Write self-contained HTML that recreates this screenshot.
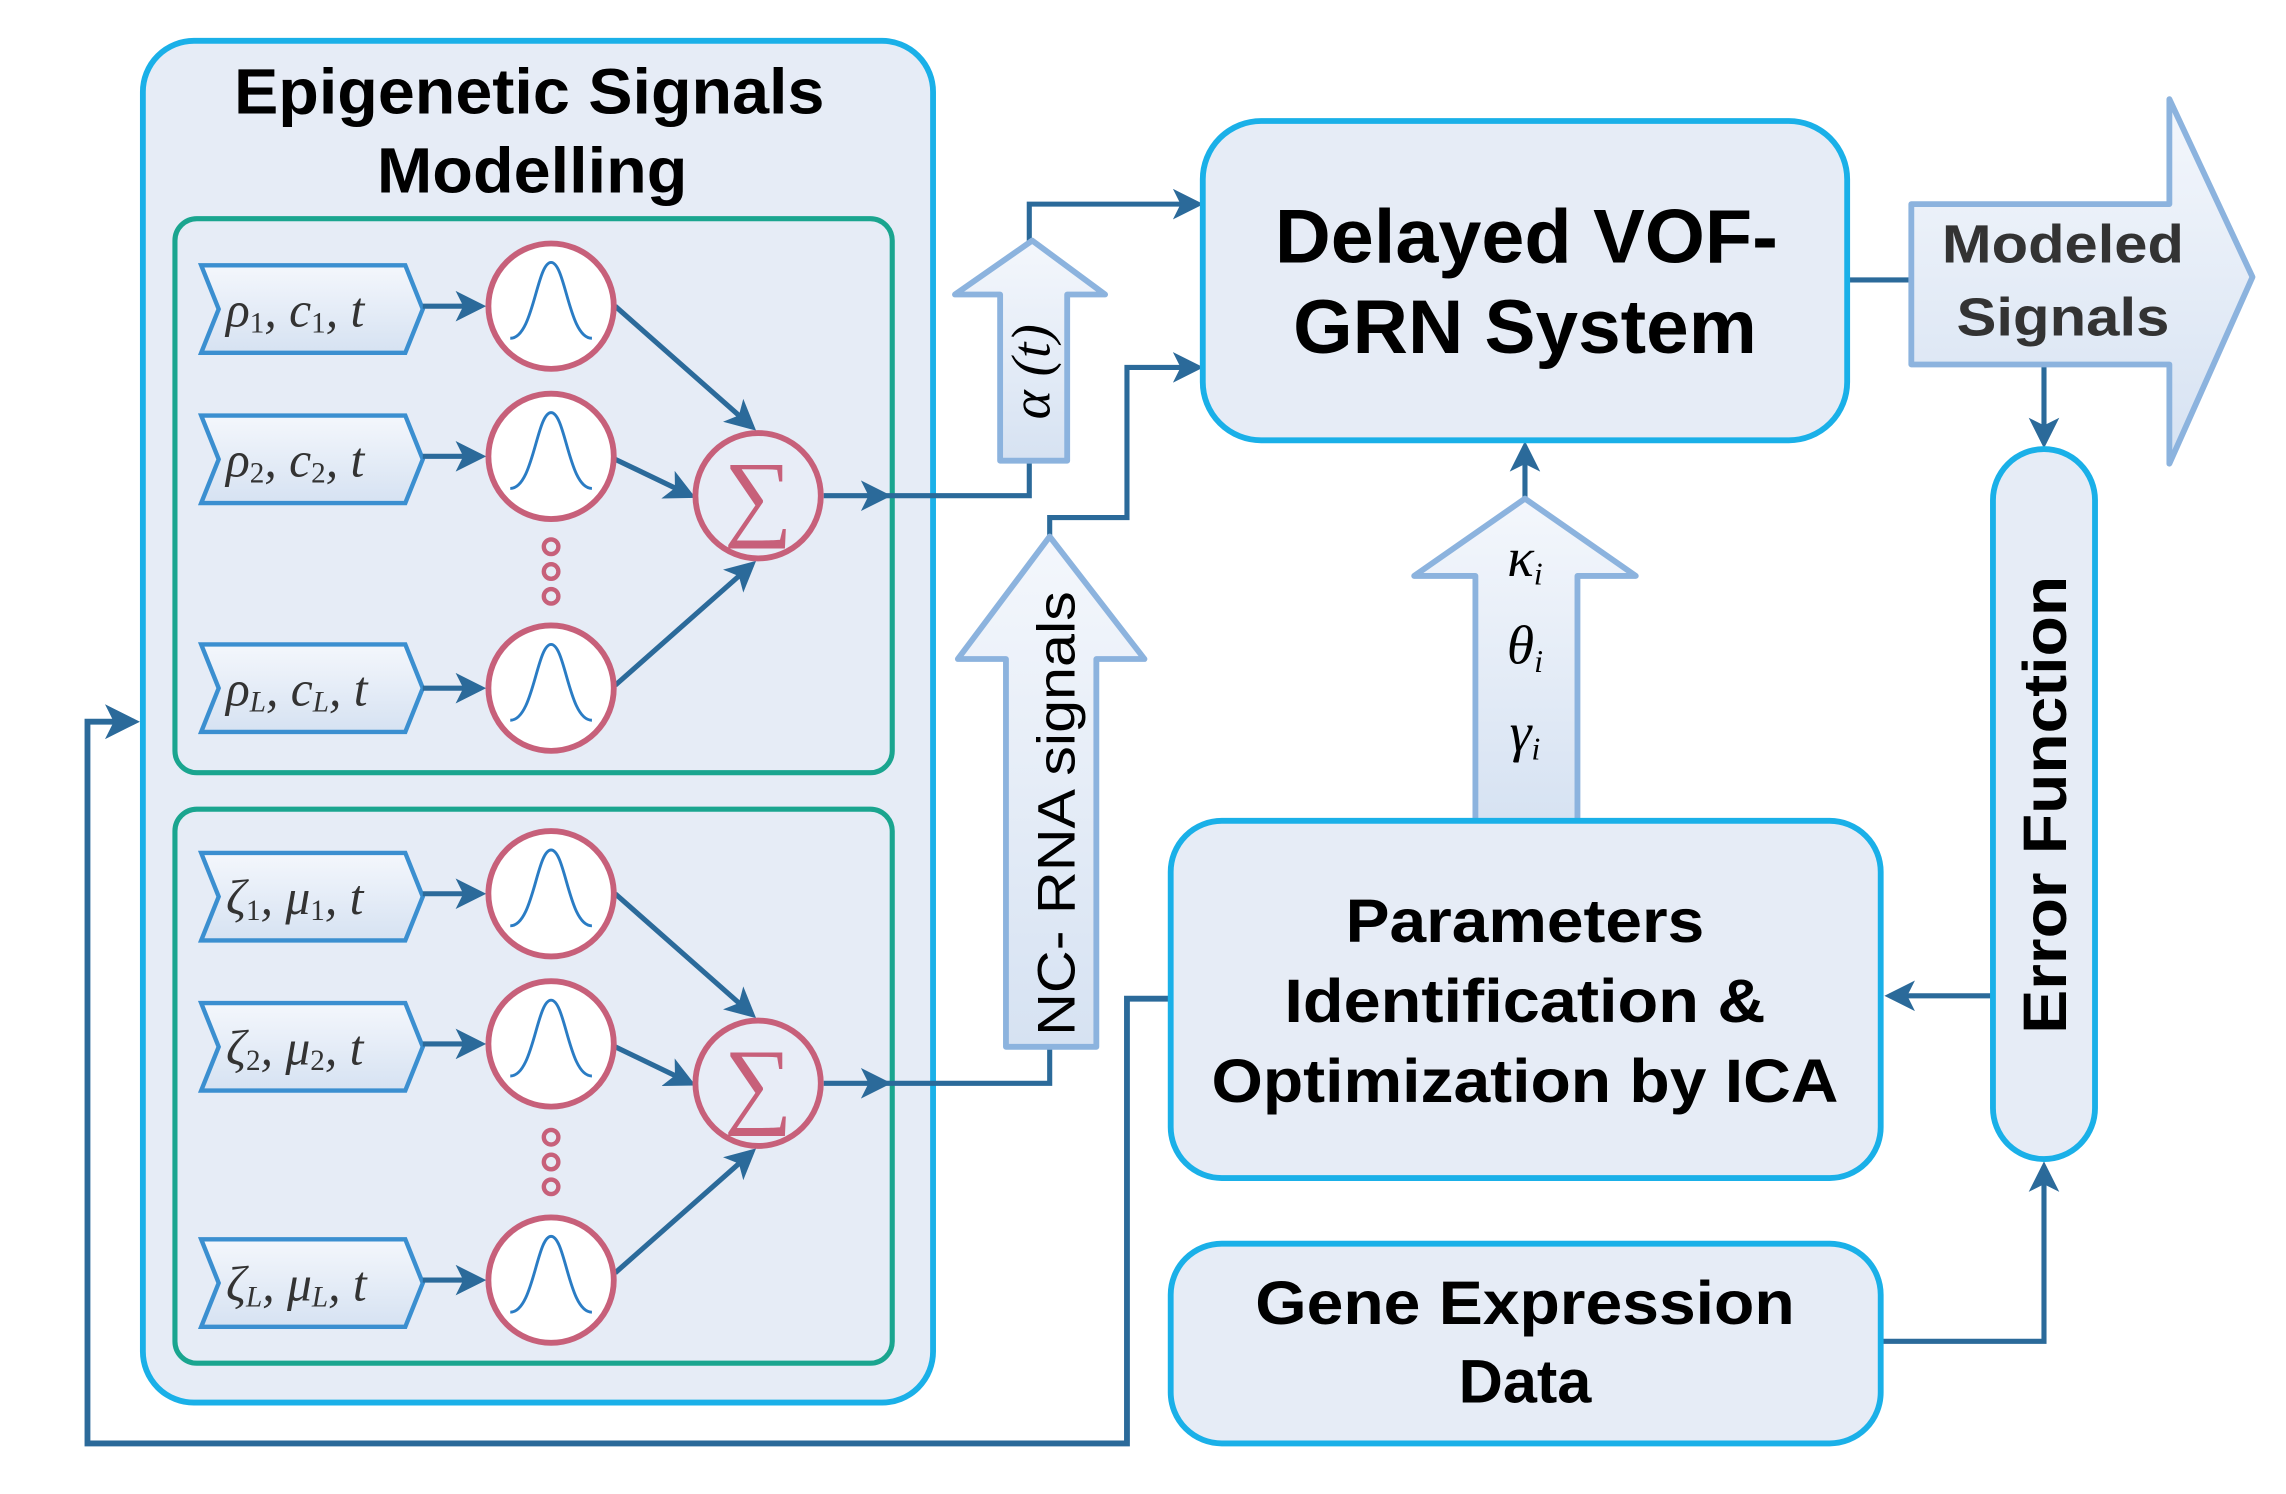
<!DOCTYPE html>
<html><head><meta charset="utf-8"><style>html,body{margin:0;padding:0;background:#fff}svg{display:block}</style></head>
<body>
<svg width="2286" height="1494" viewBox="0 0 1568 1024.7" preserveAspectRatio="none" xmlns="http://www.w3.org/2000/svg" font-family="Liberation Sans, sans-serif">
<defs>
<marker id="ah" markerWidth="6" markerHeight="6" refX="5" refY="3" orient="auto" markerUnits="strokeWidth"><path d="M0,0 L6,3 L0,6 L1.5,3 Z" fill="#2b6a9a"/></marker>
<linearGradient id="ag" x1="0" y1="0" x2="0" y2="1"><stop offset="0" stop-color="#f4f7fc"/><stop offset="1" stop-color="#d6e2f2"/></linearGradient>
<g id="gauss"><circle r="43" fill="#fff" stroke="#c7607a" stroke-width="4"/><path d="M-28,22 C-12,22 -10,-30 0,-30 C10,-30 12,22 28,22" fill="none" stroke="#2a7cc4" stroke-width="2"/></g>
<g id="sum"><circle r="43" fill="#e8edf7" stroke="#c7607a" stroke-width="4"/><text x="0" y="22" text-anchor="middle" font-family="Liberation Serif, serif" font-size="66" fill="#c7607a">∑</text></g>
</defs>
<g stroke="#2b6a9a" stroke-width="4" fill="none">
<polyline points="805,685 773,685 773,990 60,990 60,495 92,495" marker-end="url(#ah)"/>
</g>
<rect x="98" y="28" width="542" height="934" rx="35" fill="#e6ecf6" stroke="#1ab0e8" stroke-width="4"/>
<text x="363" y="78" text-anchor="middle" font-size="44" font-weight="bold" textLength="405" lengthAdjust="spacingAndGlyphs">Epigenetic Signals</text>
<text x="365" y="132" text-anchor="middle" font-size="44" font-weight="bold" textLength="213" lengthAdjust="spacingAndGlyphs">Modelling</text>
<rect x="120" y="150" width="492" height="380" rx="15" fill="#e6ecf6" stroke="#1aa58f" stroke-width="3.5"/>
<rect x="120" y="555" width="492" height="380" rx="15" fill="#e6ecf6" stroke="#1aa58f" stroke-width="3.5"/>
<g fill="url(#ag)" stroke="#3b8fd0" stroke-width="3">
<path d="M138,182 H278 L290,212 L278,242 H138 L150,212 Z"/>
<path d="M138,285 H278 L290,315 L278,345 H138 L150,315 Z"/>
<path d="M138,442 H278 L290,472 L278,502 H138 L150,472 Z"/>
<path d="M138,585 H278 L290,615 L278,645 H138 L150,615 Z"/>
<path d="M138,688 H278 L290,718 L278,748 H138 L150,718 Z"/>
<path d="M138,850 H278 L290,880 L278,910 H138 L150,880 Z"/>
</g>
<g font-family="Liberation Serif, serif" font-style="italic" font-size="34" fill="#333">
<text x="155" y="224">ρ<tspan font-size="20" font-style="normal" dy="4">1</tspan><tspan dy="-4">, c</tspan><tspan font-size="20" font-style="normal" dy="4">1</tspan><tspan dy="-4">, t</tspan></text>
<text x="155" y="327">ρ<tspan font-size="20" font-style="normal" dy="4">2</tspan><tspan dy="-4">, c</tspan><tspan font-size="20" font-style="normal" dy="4">2</tspan><tspan dy="-4">, t</tspan></text>
<text x="155" y="484">ρ<tspan font-size="20" dy="4">L</tspan><tspan dy="-4">, c</tspan><tspan font-size="20" dy="4">L</tspan><tspan dy="-4">, t</tspan></text>
<text x="155" y="627">ζ<tspan font-size="20" font-style="normal" dy="4">1</tspan><tspan dy="-4">, μ</tspan><tspan font-size="20" font-style="normal" dy="4">1</tspan><tspan dy="-4">, t</tspan></text>
<text x="155" y="730">ζ<tspan font-size="20" font-style="normal" dy="4">2</tspan><tspan dy="-4">, μ</tspan><tspan font-size="20" font-style="normal" dy="4">2</tspan><tspan dy="-4">, t</tspan></text>
<text x="155" y="892">ζ<tspan font-size="20" dy="4">L</tspan><tspan dy="-4">, μ</tspan><tspan font-size="20" dy="4">L</tspan><tspan dy="-4">, t</tspan></text>
</g>
<g stroke="#2b6a9a" stroke-width="3.5" fill="none">
<line x1="290" y1="210" x2="330" y2="210" marker-end="url(#ah)"/>
<line x1="290" y1="313" x2="330" y2="313" marker-end="url(#ah)"/>
<line x1="290" y1="472" x2="330" y2="472" marker-end="url(#ah)"/>
<line x1="290" y1="613" x2="330" y2="613" marker-end="url(#ah)"/>
<line x1="290" y1="716" x2="330" y2="716" marker-end="url(#ah)"/>
<line x1="290" y1="878" x2="330" y2="878" marker-end="url(#ah)"/>
<line x1="422" y1="210" x2="516" y2="293" marker-end="url(#ah)"/>
<line x1="422" y1="315" x2="474" y2="340" marker-end="url(#ah)"/>
<line x1="422" y1="470" x2="516" y2="387" marker-end="url(#ah)"/>
<line x1="422" y1="613" x2="516" y2="696" marker-end="url(#ah)"/>
<line x1="422" y1="718" x2="474" y2="743" marker-end="url(#ah)"/>
<line x1="422" y1="873" x2="516" y2="790" marker-end="url(#ah)"/>
<line x1="565" y1="340" x2="608" y2="340" marker-end="url(#ah)"/>
<line x1="565" y1="743" x2="608" y2="743" marker-end="url(#ah)"/>
<polyline points="608,340 706,340 706,140 822,140" marker-end="url(#ah)"/>
<polyline points="608,743 720,743 720,355 773,355 773,252 822,252" marker-end="url(#ah)"/>
<line x1="1267" y1="192" x2="1312" y2="192"/>
<line x1="1402" y1="250" x2="1402" y2="304" marker-end="url(#ah)"/>
<line x1="1046" y1="345" x2="1046" y2="306" marker-end="url(#ah)"/>
<line x1="1367" y1="683" x2="1296" y2="683" marker-end="url(#ah)"/>
<polyline points="1290,920 1402,920 1402,800" marker-end="url(#ah)"/>
</g>
<use href="#gauss" x="378" y="210"/><use href="#gauss" x="378" y="313"/><use href="#gauss" x="378" y="472"/>
<use href="#gauss" x="378" y="613"/><use href="#gauss" x="378" y="716"/><use href="#gauss" x="378" y="878"/>
<use href="#sum" x="520" y="340"/><use href="#sum" x="520" y="743"/>
<g fill="none" stroke="#c7607a" stroke-width="3">
<circle cx="378" cy="375" r="5"/><circle cx="378" cy="392" r="5"/><circle cx="378" cy="409" r="5"/>
<circle cx="378" cy="780" r="5"/><circle cx="378" cy="797" r="5"/><circle cx="378" cy="814" r="5"/>
</g>
<g fill="url(#ag)" stroke="#8cb3de" stroke-width="4" stroke-linejoin="round">
<path d="M708,165 L758,202 H732 V316 H686 V202 H655 Z"/>
<path d="M720,368 L785,452 H752 V718 H690 V452 H657 Z"/>
<path d="M1046,342 L1122,395 H1082 V565 H1012 V395 H970 Z"/>
<path d="M1311,140 H1488 V68 L1545,190 L1488,318 V250 H1311 Z"/>
</g>
<text transform="translate(720,255) rotate(-90)" text-anchor="middle" font-family="Liberation Serif, serif" font-style="italic" font-size="38">α (t)</text>
<text transform="translate(737,558) rotate(-90)" text-anchor="middle" font-size="36" textLength="305" lengthAdjust="spacingAndGlyphs">NC- RNA signals</text>
<g font-family="Liberation Serif, serif" font-style="italic" font-size="38" text-anchor="middle">
<text x="1046" y="395">κ<tspan font-size="22" dy="6">i</tspan></text>
<text x="1046" y="455">θ<tspan font-size="22" dy="6">i</tspan></text>
<text x="1046" y="515">γ<tspan font-size="22" dy="6">i</tspan></text>
</g>
<text x="1415" y="180" text-anchor="middle" font-size="37" font-weight="bold" fill="#333" textLength="166" lengthAdjust="spacingAndGlyphs">Modeled</text>
<text x="1415" y="230" text-anchor="middle" font-size="37" font-weight="bold" fill="#333" textLength="146" lengthAdjust="spacingAndGlyphs">Signals</text>
<rect x="825" y="83" width="442" height="219" rx="40" fill="#e6ecf6" stroke="#1ab0e8" stroke-width="4"/>
<text x="1047" y="180" text-anchor="middle" font-size="52" font-weight="bold" textLength="345" lengthAdjust="spacingAndGlyphs">Delayed VOF-</text>
<text x="1046" y="242" text-anchor="middle" font-size="52" font-weight="bold" textLength="318" lengthAdjust="spacingAndGlyphs">GRN System</text>
<rect x="1367" y="308" width="70" height="487" rx="35" fill="#e6ecf6" stroke="#1ab0e8" stroke-width="4"/>
<text transform="translate(1417,552) rotate(-90)" text-anchor="middle" font-size="42" font-weight="bold" textLength="314" lengthAdjust="spacingAndGlyphs">Error Function</text>
<rect x="803" y="563" width="487" height="245" rx="35" fill="#e6ecf6" stroke="#1ab0e8" stroke-width="4"/>
<text x="1046" y="646" text-anchor="middle" font-size="42" font-weight="bold" textLength="246" lengthAdjust="spacingAndGlyphs">Parameters</text>
<text x="1046" y="701" text-anchor="middle" font-size="42" font-weight="bold" textLength="330" lengthAdjust="spacingAndGlyphs">Identification &amp;</text>
<text x="1046" y="756" text-anchor="middle" font-size="42" font-weight="bold" textLength="430" lengthAdjust="spacingAndGlyphs">Optimization by ICA</text>
<rect x="803" y="853" width="487" height="137" rx="35" fill="#e6ecf6" stroke="#1ab0e8" stroke-width="4"/>
<text x="1046" y="908" text-anchor="middle" font-size="42" font-weight="bold" textLength="370" lengthAdjust="spacingAndGlyphs">Gene Expression</text>
<text x="1046" y="962" text-anchor="middle" font-size="42" font-weight="bold">Data</text>
</svg>
</body></html>
